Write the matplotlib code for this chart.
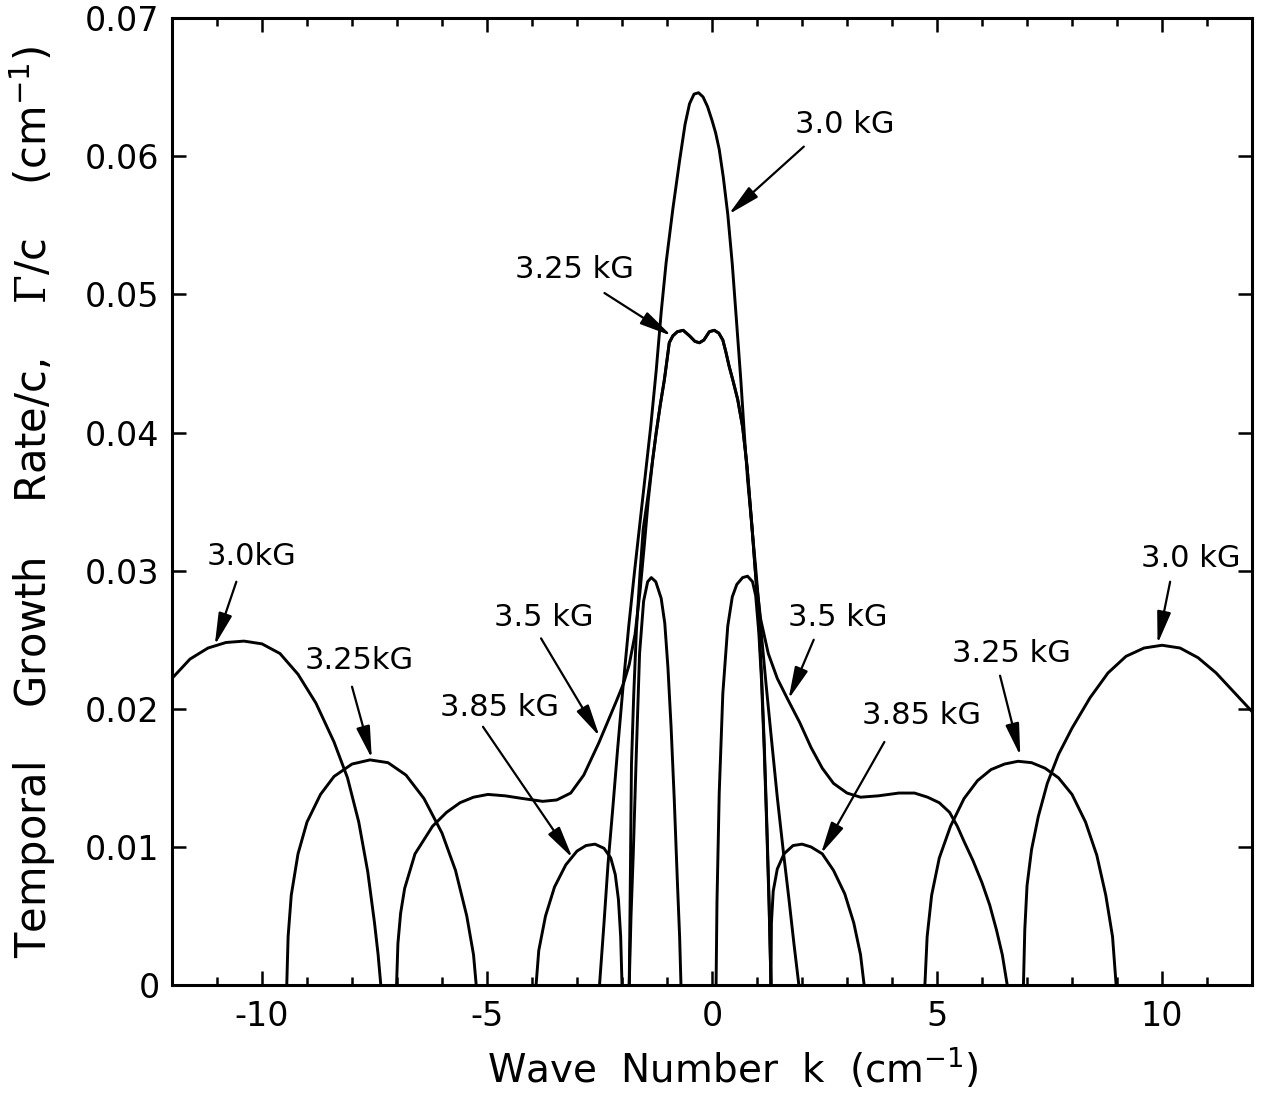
import matplotlib
matplotlib.use("Agg")
import matplotlib.pyplot as plt
from matplotlib.ticker import MultipleLocator

plt.rcParams['font.family'] = ['DejaVu Sans']
plt.rcParams['axes.unicode_minus'] = False
plt.rcParams['mathtext.fontset'] = 'custom'
plt.rcParams['mathtext.rm'] = 'DejaVu Serif'
plt.rcParams['mathtext.sf'] = 'DejaVu Sans'

# ---- Daten ----
# 3.0 kG
k30_left = [-12.0, -11.6, -11.2, -10.8, -10.4, -10.0, -9.6, -9.2, -8.8, -8.4, -8.1, -7.85, -7.65, -7.5, -7.42, -7.36]
g30_left = [0.0222, 0.0236, 0.0244, 0.0248, 0.0249, 0.0247, 0.0240, 0.0225, 0.0204, 0.0176, 0.0150, 0.0118, 0.0082, 0.0045, 0.0022, 0.0]
k30_mid = [-2.5, -2.4, -2.31, -2.2, -2.1, -1.98, -1.85, -1.72, -1.6, -1.48, -1.36, -1.24, -1.13, -1.02, -0.87, -0.72,
           -0.6, -0.5, -0.4, -0.3, -0.2, -0.1, 0.0, 0.08, 0.16, 0.25, 0.35, 0.45, 0.55, 0.64, 0.72, 0.79, 0.88,
           0.97, 1.08, 1.2, 1.33, 1.45, 1.58, 1.71, 1.82, 1.93]
g30_mid = [0.0, 0.0045, 0.0088, 0.0130, 0.0170, 0.0215, 0.0260, 0.0300, 0.0335, 0.0370, 0.0405, 0.0445, 0.0487, 0.0523, 0.0562, 0.0597,
           0.0623, 0.0638, 0.0645, 0.0646, 0.0643, 0.0636, 0.0626, 0.0617, 0.0605, 0.0585, 0.0558, 0.0522, 0.0478, 0.0438, 0.0398, 0.0366, 0.0334,
           0.0302, 0.0260, 0.0218, 0.0175, 0.0136, 0.0098, 0.0062, 0.0030, 0.0]
k30_right = [6.92, 6.95, 7.0, 7.1, 7.25, 7.45, 7.7, 8.0, 8.4, 8.8, 9.2, 9.6, 10.0, 10.4, 10.8, 11.2, 11.6, 12.0]
g30_right = [0.0, 0.0040, 0.0072, 0.0098, 0.0122, 0.0146, 0.0167, 0.0186, 0.0208, 0.0226, 0.0238, 0.0244, 0.0246, 0.0244, 0.0237, 0.0226, 0.0212, 0.0198]

# 3.25 kG
k325_left = [-9.45, -9.42, -9.35, -9.2, -9.0, -8.7, -8.4, -8.0, -7.6, -7.2, -6.8, -6.4, -6.0, -5.7, -5.45, -5.3, -5.24]
g325_left = [0.0, 0.0035, 0.0065, 0.0095, 0.0118, 0.0138, 0.0151, 0.0160, 0.0163, 0.0161, 0.0152, 0.0135, 0.0110, 0.0083, 0.0050, 0.0022, 0.0]
k325_mid = [-1.84, -1.82, -1.79, -1.74, -1.68, -1.6, -1.53, -1.42, -1.32, -1.24, -1.15, -1.06, -0.99, -0.95, -0.87, -0.77, -0.64,
            -0.5, -0.38, -0.28, -0.18, -0.06, 0.05, 0.15, 0.24, 0.31, 0.38, 0.47, 0.57, 0.68, 0.78, 0.88, 0.97, 1.04,
            1.1, 1.16, 1.22, 1.27, 1.31]
g325_mid = [0.0, 0.0060, 0.0160, 0.0210, 0.0257, 0.0298, 0.0330, 0.0355, 0.0380, 0.0400, 0.0420, 0.0438, 0.0455, 0.0465, 0.0470, 0.0473, 0.0474,
            0.0470, 0.0466, 0.0465, 0.0467, 0.0473, 0.0474, 0.0472, 0.0467, 0.0458, 0.0448, 0.0437, 0.0424, 0.0404, 0.0375, 0.0335, 0.0296, 0.0262,
            0.0225, 0.0175, 0.0115, 0.0058, 0.0]
k325_right = [4.73, 4.78, 4.88, 5.05, 5.3, 5.6, 5.9, 6.2, 6.5, 6.8, 7.1, 7.4, 7.7, 8.0, 8.3, 8.55, 8.75, 8.9, 8.98]
g325_right = [0.0, 0.0035, 0.0065, 0.0092, 0.0115, 0.0135, 0.0148, 0.0156, 0.0160, 0.0162, 0.0161, 0.0157, 0.0150, 0.0138, 0.0118, 0.0094, 0.0065, 0.0035, 0.0]

# 3.5 kG (eine durchgehende Kurve)
k35 = [-7.01, -6.98, -6.92, -6.83, -6.6, -6.21, -5.9, -5.6, -5.3, -4.98, -4.6, -4.2, -3.76, -3.45, -3.14, -2.85, -2.52,
       -2.3, -2.12, -1.97, -1.84, -1.71, -1.6, -1.5, -1.42, -1.32, -1.24, -1.15, -1.06, -0.99, -0.95, -0.87, -0.77,
       -0.64, -0.5, -0.38, -0.28, -0.18, -0.06, 0.05, 0.15, 0.24, 0.31, 0.38, 0.47, 0.57, 0.68, 0.78, 0.88, 0.97,
       1.08, 1.25, 1.45, 1.68, 1.95, 2.2, 2.45, 2.7, 3.0, 3.3, 3.7, 4.15, 4.5, 4.79, 5.05, 5.28, 5.45, 5.6, 5.8,
       6.0, 6.17, 6.32, 6.45, 6.56]
g35 = [0.0, 0.0030, 0.0052, 0.0070, 0.0095, 0.0115, 0.0125, 0.0132, 0.0136, 0.0138, 0.0137, 0.0135, 0.0133, 0.0134, 0.0139, 0.0152, 0.0175,
       0.0192, 0.0206, 0.0218, 0.0232, 0.0254, 0.0285, 0.0320, 0.0350, 0.0380, 0.0400, 0.0420, 0.0438, 0.0455, 0.0465, 0.0470, 0.0473,
       0.0474, 0.0470, 0.0466, 0.0465, 0.0467, 0.0473, 0.0474, 0.0472, 0.0467, 0.0458, 0.0448, 0.0437, 0.0424, 0.0404, 0.0375, 0.0335, 0.0296,
       0.0265, 0.0240, 0.0222, 0.0207, 0.0190, 0.0172, 0.0157, 0.0146, 0.0139, 0.0136, 0.0137, 0.0139, 0.0139, 0.0136, 0.0132, 0.0125, 0.0115, 0.0104, 0.0090,
       0.0074, 0.0058, 0.0040, 0.0022, 0.0]

# 3.85 kG
k385_left = [-3.91, -3.85, -3.7, -3.5, -3.25, -3.0, -2.8, -2.6, -2.4, -2.25, -2.15, -2.08, -2.03, -2.0]
g385_left = [0.0, 0.0025, 0.0050, 0.0071, 0.0087, 0.0097, 0.0101, 0.0102, 0.0099, 0.0092, 0.0080, 0.0062, 0.0035, 0.0]
k385_c1 = [-1.84, -1.80, -1.75, -1.68, -1.61, -1.52, -1.43, -1.35, -1.25, -1.13, -1.05, -0.98, -0.91, -0.84, -0.77, -0.72, -0.69]
g385_c1 = [0.0, 0.0050, 0.0095, 0.0170, 0.0240, 0.0278, 0.0292, 0.0295, 0.0292, 0.0280, 0.0262, 0.0230, 0.0187, 0.0135, 0.0075, 0.0035, 0.0]
k385_c2 = [0.09, 0.11, 0.16, 0.24, 0.35, 0.45, 0.55, 0.68, 0.79, 0.90, 0.97, 1.04, 1.10, 1.16, 1.22, 1.27, 1.31]
g385_c2 = [0.0, 0.0060, 0.0139, 0.0211, 0.0260, 0.0281, 0.0290, 0.0295, 0.0296, 0.0292, 0.0282, 0.0255, 0.0220, 0.0170, 0.0110, 0.0055, 0.0]
k385_right = [1.31, 1.32, 1.36, 1.45, 1.6, 1.8, 2.0, 2.2, 2.45, 2.7, 2.95, 3.15, 3.3, 3.38]
g385_right = [0.0, 0.0045, 0.0068, 0.0084, 0.0095, 0.0101, 0.0102, 0.0100, 0.0095, 0.0083, 0.0066, 0.0045, 0.0022, 0.0]

# Beschriftungen: Text, Textposition, Pfeilanfang, Pfeilspitze
label_texts = ['3.0 kG', '3.25 kG', '3.0kG', '3.25kG', '3.85 kG', '3.5 kG', '3.5 kG', '3.25 kG', '3.85 kG', '3.0 kG']
label_pos = [(2.96, 0.0623), (-3.05, 0.0518), (-10.24, 0.0310), (-7.85, 0.0235), (-4.73, 0.0201),
             (-3.75, 0.0266), (2.79, 0.0266), (6.65, 0.0240), (4.65, 0.0195), (10.64, 0.0309)]
arrow_from = [(2.04, 0.0607), (-2.39, 0.0501), (-10.57, 0.0292), (-8.0, 0.0216), (-5.09, 0.0187),
              (-3.8, 0.0251), (2.26, 0.0250), (6.4, 0.0224), (3.83, 0.0176), (10.18, 0.0292)]
arrow_to = [(0.37, 0.0558), (-0.9, 0.0470), (-11.05, 0.0246), (-7.56, 0.0164), (-3.1, 0.0092),
            (-2.5, 0.0180), (1.70, 0.0207), (6.85, 0.0166), (2.42, 0.0095), (9.9, 0.0247)]

x_ticks = [-10, -5, 0, 5, 10]
x_tick_labels = ['-10', '-5', '0', '5', '10']
y_ticks = [0, 0.01, 0.02, 0.03, 0.04, 0.05, 0.06, 0.07]
y_tick_labels = ['0', '0.01', '0.02', '0.03', '0.04', '0.05', '0.06', '0.07']

fig = plt.figure(figsize=(12.61, 11.0), dpi=100)
ax = fig.add_axes([0.1364, 0.1045, 0.8565, 0.879])

# Kurven
curves = [(k30_left, g30_left), (k30_mid, g30_mid), (k30_right, g30_right),
          (k325_left, g325_left), (k325_mid, g325_mid), (k325_right, g325_right),
          (k35, g35),
          (k385_left, g385_left), (k385_c1, g385_c1), (k385_c2, g385_c2), (k385_right, g385_right)]
for k, g in curves:
    ax.plot(k, g, color='black', linewidth=2.1, solid_joinstyle='round')

# Beschriftungen mit Pfeilen
for txt, pos, a0, a1 in zip(label_texts, label_pos, arrow_from, arrow_to):
    ax.text(pos[0], pos[1], txt, fontsize=22, ha='center', va='center')
    ax.annotate('', xy=a1, xytext=a0,
                arrowprops=dict(arrowstyle='-|>,head_length=1.4,head_width=0.3', lw=1.6,
                                color='black', shrinkA=0, shrinkB=0, mutation_scale=14))

# Achsen
ax.set_xlim(-12, 12)
ax.set_ylim(0, 0.07)
ax.set_xticks(x_ticks)
ax.set_xticklabels(x_tick_labels)
ax.set_yticks(y_ticks)
ax.set_yticklabels(y_tick_labels)
ax.xaxis.set_minor_locator(MultipleLocator(1))
ax.tick_params(which='both', direction='in', top=True, right=True, width=1.8)
ax.tick_params(which='major', length=10, labelsize=24)
ax.tick_params(which='minor', length=6)
ax.tick_params(axis='x', pad=11)
ax.tick_params(axis='y', pad=9)
for s in ax.spines.values():
    s.set_linewidth(2.2)

ax.set_xlabel('Wave  Number  k  (cm$^{\\mathsf{-1}}$)', fontsize=28)
ax.xaxis.set_label_coords(0.519, -0.063)
ax.set_ylabel('Temporal    Growth    Rate/c,    $\\Gamma$/c    (cm$^{\\mathsf{-1}}$)', fontsize=30)
ax.yaxis.set_label_coords(-0.106, 0.5)

plt.savefig('out.png', dpi=100)
plt.close()
